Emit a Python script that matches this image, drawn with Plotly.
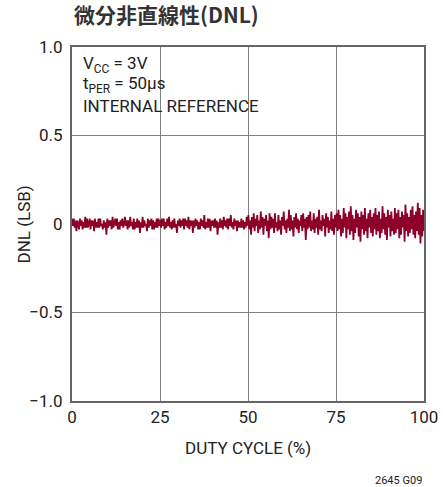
import numpy as np
import plotly.graph_objects as go

# DNL readings (units of 0.01 LSB) across the duty-cycle sweep, in four quarters
dnl_q1 = [3,-1,3,-2,2,-4,2,0,-3,3,-1,2,-3,1,-2,4,-2,3,-2,0,3,-3,2,-1,2,-4,3,-2,1,-2,
          3,-2,3,-1,0,-3,2,-2,1,-6,3,-2,2,-1,2,-3,4,-2,0,3,-1,3,-3,1,-3,2,-1,3,-2,0,
          4,-1,2,-3,2,-2,4,-1,1,-3,3,-3,1,-2,3,-2,2,-5,1,-2,4,-2,2,-1,0,-4,3,-2,2,-1,
          3,-3,2,-3,1,-2,3,-2,3,-1]
dnl_q2 = [2,-2,3,-1,3,-3,1,-2,3,-1,4,-2,1,-3,2,-2,3,-2,0,-5,2,-1,3,-2,2,-1,3,-3,3,-1,
          2,-2,4,-3,2,-1,2,-5,2,-2,3,-1,2,-3,1,-3,3,-1,2,-2,5,-3,1,-2,3,-2,3,-4,2,-1,
          2,-2,3,-2,2,-6,1,-2,3,-2,2,-3,4,-1,2,-2,3,-3,3,-1,5,-2,1,-3,3,-1,2,-4,2,-2,
          1,-2,3,-2,2,-3,1,-2,4,-1]
dnl_q3 = [5,-3,2,-6,4,-2,6,-4,3,-1,5,-5,2,-3,7,-2,4,-6,3,-1,5,-4,2,-8,6,-3,4,-2,3,-5,
          6,-2,1,-4,5,-3,2,-6,4,-1,7,-3,2,-5,3,-2,8,-4,5,-3,2,-7,4,-2,6,-3,3,-5,2,-1,
          5,-4,6,-2,3,-9,4,-3,5,-2,7,-4,2,-3,6,-5,3,-2,4,-6,8,-3,2,-4,5,-1,3,-7,6,-2,
          4,-5,2,-3,7,-4,3,-6,5,-2]
dnl_q4 = [6,-4,8,-3,5,-7,3,-5,9,-2,6,-8,4,-3,7,-6,10,-4,5,-9,3,-5,8,-2,6,-7,4,-10,7,-3,
          5,-6,9,-4,3,-8,6,-2,8,-5,4,-7,6,-3,9,-6,5,-4,7,-8,3,-5,10,-3,6,-6,4,-9,8,-2,
          5,-7,7,-4,3,-6,9,-5,6,-3,8,-8,4,-6,7,-2,5,-10,11,-4,6,-7,4,-5,8,-3,10,-6,5,-8,
          7,-4,12,-6,9,-11,5,-7,8,-4]

y_tick_vals = [1.0, 0.5, 0.0, -0.5, -1.0]
y_tick_text = ["1.0", "0.5", "0", "\u22120.5", "\u22121.0"]
x_tick_vals = [0, 25, 50, 75, 100]
x_tick_text = ["0", "25", "50", "75", "100"]

dnl = np.array(dnl_q1 + dnl_q2 + dnl_q3 + dnl_q4) * 0.01
duty = np.linspace(0, 100, len(dnl))

FONT = "Roboto, Liberation Sans, sans-serif"
TXT = "#222222"
FS = 17

fig = go.Figure()
fig.add_trace(go.Scatter(x=duty, y=dnl, mode="lines",
                         line=dict(color="#8c0029", width=1.8), hoverinfo="skip"))

axis_common = dict(showgrid=True, gridcolor="#808080", gridwidth=1,
                   showline=True, linecolor="#666666", linewidth=2, mirror=True,
                   zeroline=False, ticks="", automargin=False,
                   tickfont=dict(family=FONT, size=FS, color=TXT))

fig.update_xaxes(range=[0, 100], tickvals=x_tick_vals, ticktext=x_tick_text,
                 **axis_common)
fig.update_yaxes(range=[-1.0, 1.0], tickvals=y_tick_vals, ticktext=y_tick_text,
                 ticklabelstandoff=4, **axis_common)

# axis titles
fig.add_annotation(xref="paper", yref="paper", x=0.5, y=-0.1, xanchor="center",
                   yanchor="top", showarrow=False, text="DUTY CYCLE (%)",
                   font=dict(family=FONT, size=FS, color=TXT))
fig.add_annotation(xref="paper", yref="paper", x=-0.135, y=0.5, xanchor="center",
                   yanchor="middle", showarrow=False, text="DNL (LSB)", textangle=-90,
                   font=dict(family=FONT, size=FS, color=TXT))

annots = [
    dict(text="V<sub>CC</sub> = 3V", x=0.025, y=0.99),
    dict(text="t<sub>PER</sub> = 50µs", x=0.025, y=0.932),
    dict(text="INTERNAL REFERENCE", x=0.025, y=0.868),
]
for a in annots:
    fig.add_annotation(xref="paper", yref="paper", xanchor="left", yanchor="top",
                       showarrow=False, font=dict(family=FONT, size=FS, color=TXT), **a)

fig.add_annotation(xref="paper", yref="paper", x=1.0, y=-0.2, xanchor="right",
                   yanchor="top", showarrow=False, text="2645 G09",
                   font=dict(family=FONT, size=11, color=TXT))

fig.add_annotation(xref="paper", yref="paper", x=0.0, y=1.045, xanchor="left",
                   yanchor="bottom", showarrow=False, text="<b>微分非直線性(DNL)</b>",
                   font=dict(family="Noto Sans CJK JP, Noto Sans CJK SC, sans-serif",
                             size=21, color="#333333"))

fig.update_layout(width=443, height=487, margin=dict(l=72, r=19, t=47, b=86),
                  paper_bgcolor="white", plot_bgcolor="white", showlegend=False)

fig.write_html("out.html", config={"responsive": False})
